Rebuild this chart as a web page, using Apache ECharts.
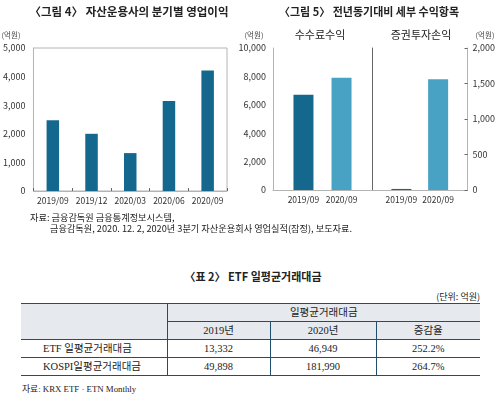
<!DOCTYPE html>
<html>
<head>
<meta charset="utf-8">
<script src="https://cdn.jsdelivr.net/npm/echarts@6/dist/echarts.min.js"></script>
<style>
  html, body { margin: 0; padding: 0; background: #fff; }
  body { width: 498px; height: 396px; position: relative; overflow: hidden; font-family: "Noto Sans CJK KR", sans-serif; color: #222; }
  #chart { position: absolute; left: 0; top: 0; width: 498px; height: 245px; }
  .cap { position: absolute; white-space: nowrap; }
  #tblTitle { left: 0; width: 506px; top: 268px; text-align: center; font-size: 11px; font-weight: bold; }
  #unit { right: 18px; top: 290px; font-size: 9px; }
  #src2 { left: 22px; top: 382px; font-size: 8.8px; font-family: "Liberation Serif", "Noto Sans CJK KR", serif; }
  table { position: absolute; left: 21px; top: 303px; width: 459px; border-collapse: collapse;
          font-family: "Liberation Serif", "Noto Sans CJK KR", serif; font-size: 10.5px; color: #222; }
  td { border: 1px solid #1f4e6e; border-left: none; border-right: none; padding: 0; height: 17px; text-align: center; line-height: 17px; }
  td.v { border-left: 1px solid #1f4e6e; }
  td.h { background: #e6e9ed; }
  td.lbl { text-align: left; padding-left: 22px; }
  tr.top td { border-top: 1px solid #1f4e6e; }
</style>
</head>
<body>
<div id="chart"></div>

<div class="cap" id="tblTitle">〈표 2〉 ETF 일평균거래대금</div>
<div class="cap" id="unit">(단위: 억원)</div>
<table>
  <colgroup><col style="width:146px"><col style="width:103px"><col style="width:106px"><col style="width:104px"></colgroup>
  <tr class="top"><td class="h" rowspan="2"></td><td class="h v" colspan="3">일평균거래대금</td></tr>
  <tr><td class="h v">2019년</td><td class="h v">2020년</td><td class="h v">증감율</td></tr>
  <tr><td class="lbl">ETF 일평균거래대금</td><td class="v">13,332</td><td class="v">46,949</td><td class="v">252.2%</td></tr>
  <tr><td class="lbl">KOSPI일평균거래대금</td><td class="v">49,898</td><td class="v">181,990</td><td class="v">264.7%</td></tr>
</table>
<div class="cap" id="src2">자료: KRX ETF · ETN Monthly</div>

<script>
// 그림 4: 분기별 영업이익 (억원)
const quarters = ["2019/09", "2019/12", "2020/03", "2020/06", "2020/09"];
const opProfit = [2470, 2000, 1325, 3145, 4215];

// 그림 5: 전년동기대비 세부 수익항목 (억원)
const periods = ["2019/09", "2020/09"];
const feeIncome = [6700, 7900];
const secGain = [15, 1560];

const DARK = "#14688e";
const LIGHT = "#48a2c4";
const periodColors = [DARK, LIGHT];
const AXIS = "#b4b4b4";
const TXT = "#333";
const FONT = "Noto Sans CJK KR";

// 그림 5 패널: x는 1, 2 위치의 값 축 (양옆 여백 0.8)
const panelData = (vals) => vals.map((v, i) => ({ value: [i + 1, v], itemStyle: { color: periodColors[i] } }));
const periodLabel = (v) => {
  const k = Math.round(v * 10) / 10;
  return k === 1 || k === 2 ? periods[k - 1] : "";
};
const fmt = (v) => v.toLocaleString("en-US");

const labelStyle = { color: TXT, fontSize: 9, fontFamily: FONT };
const xLabelStyle = { color: TXT, fontSize: 8.5, fontFamily: FONT };

const panelX = (gridIndex) => ({
  gridIndex, type: "value", min: 0.2, max: 2.8, interval: 0.2,
  axisLine: { show: true, onZero: false, lineStyle: { color: AXIS } },
  axisTick: { show: false }, splitLine: { show: false },
  axisLabel: { ...xLabelStyle, margin: 6, formatter: periodLabel, showMinLabel: false, showMaxLabel: false },
});

const chart = echarts.init(document.getElementById("chart"), null, { renderer: "canvas" });

chart.setOption({
  animation: false,
  grid: [
    { left: 30, top: 48, width: 197, height: 143, show: true, borderColor: AXIS, borderWidth: 1 },
    { left: 273, top: 48, width: 99, height: 142 },
    { left: 372, top: 48, width: 99, height: 142 },
  ],
  xAxis: [
    {
      gridIndex: 0, type: "category", data: quarters,
      axisLine: { lineStyle: { color: AXIS } },
      axisTick: { show: true, length: 3, inside: true, lineStyle: { color: "#666" } },
      axisLabel: { ...xLabelStyle, margin: 6, interval: 0 },
    },
    panelX(1),
    panelX(2),
  ],
  yAxis: [
    {
      gridIndex: 0, type: "value", min: 0, max: 5000, interval: 1000,
      axisLine: { show: true, lineStyle: { color: AXIS } },
      axisTick: { show: false }, splitLine: { show: false },
      axisLabel: { ...labelStyle, margin: 8, formatter: fmt },
    },
    {
      gridIndex: 1, type: "value", min: 0, max: 10000, interval: 2000,
      axisLine: { show: true, onZero: false, lineStyle: { color: AXIS } },
      axisTick: { show: false }, splitLine: { show: false },
      axisLabel: { ...labelStyle, margin: 7, formatter: fmt },
    },
    {
      gridIndex: 2, type: "value", position: "right", min: 0, max: 2000, interval: 500,
      axisLine: { show: true, onZero: false, lineStyle: { color: AXIS } },
      axisTick: { show: true, inside: true, length: 3, lineStyle: { color: "#666" } },
      splitLine: { show: false },
      axisLabel: { ...labelStyle, margin: 5, formatter: fmt },
    },
    {
      // 두 패널 사이 구분선
      gridIndex: 2, type: "value", position: "left", min: 0, max: 2000,
      axisLine: { show: true, onZero: false, lineStyle: { color: "#666" } },
      axisTick: { show: false }, axisLabel: { show: false }, splitLine: { show: false },
    },
  ],
  series: [
    { type: "bar", xAxisIndex: 0, yAxisIndex: 0, data: opProfit, barWidth: 12.5, itemStyle: { color: DARK } },
    { type: "bar", xAxisIndex: 1, yAxisIndex: 1, data: panelData(feeIncome), barWidth: 20 },
    { type: "bar", xAxisIndex: 2, yAxisIndex: 2, data: panelData(secGain), barWidth: 20 },
  ],
  graphic: [
    { type: "text", x: 129, y: 12, style: { text: "〈그림 4〉 자산운용사의 분기별 영업이익", font: `bold 11.5px "${FONT}"`, fill: "#222", align: "center", verticalAlign: "middle" } },
    { type: "text", x: 369, y: 12, style: { text: "〈그림 5〉 전년동기대비 세부 수익항목", font: `bold 11px "${FONT}"`, fill: "#222", align: "center", verticalAlign: "middle" } },
    { type: "text", x: 11, y: 35, style: { text: "(억원)", font: `7.5px "${FONT}"`, fill: "#444", align: "center", verticalAlign: "middle" } },
    { type: "text", x: 254, y: 35, style: { text: "(억원)", font: `7.5px "${FONT}"`, fill: "#444", align: "center", verticalAlign: "middle" } },
    { type: "text", x: 485, y: 35, style: { text: "(억원)", font: `7.5px "${FONT}"`, fill: "#444", align: "center", verticalAlign: "middle" } },
    { type: "text", x: 320, y: 35, style: { text: "수수료수익", font: `11px "${FONT}"`, fill: "#222", align: "center", verticalAlign: "middle" } },
    { type: "text", x: 421, y: 35, style: { text: "증권투자손익", font: `11px "${FONT}"`, fill: "#222", align: "center", verticalAlign: "middle" } },
    { type: "text", x: 30, y: 218, style: { text: "자료: 금융감독원 금융통계정보시스템,", font: `9.2px "${FONT}"`, fill: "#222", verticalAlign: "middle" } },
    { type: "text", x: 50, y: 229, style: { text: "금융감독원, 2020. 12. 2, 2020년 3분기 자산운용회사 영업실적(잠정), 보도자료.", font: `9.2px "${FONT}"`, fill: "#222", verticalAlign: "middle" } },
  ],
});
</script>
</body>
</html>
